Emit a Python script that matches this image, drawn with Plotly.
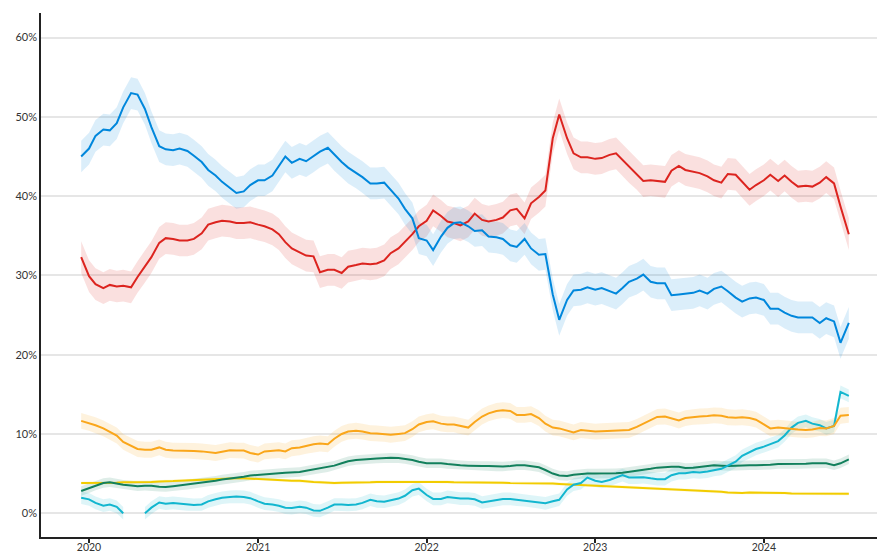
import datetime as dt
import plotly.graph_objects as go

# Polling-average dates: mid-December 2019, then the 1st and 15th of each month, ending on 3 July 2024
dates = ["2019-12-15"]
for yr in range(2020, 2025):
    for mo in range(1, 13):
        if yr == 2024 and mo > 6:
            break
        dates.append(dt.date(yr, mo, 1).isoformat())
        dates.append(dt.date(yr, mo, 15).isoformat())
dates.append("2024-07-03")

con = [45.0,
       46.0, 47.6, 48.4, 48.3, 49.2, 51.2, 53.0, 52.8, 51.0, 48.7, 46.3, 45.9, 45.8, 46.0, 45.7, 45.1, 44.3, 43.3, 42.6, 41.8, 41.0, 40.4, 40.6, 41.4,
       42.0, 42.0, 42.6, 43.8, 45.0, 44.2, 44.7, 44.4, 45.0, 45.6, 46.1, 45.2, 44.3, 43.6, 43.0, 42.4, 41.6, 41.6, 41.7, 40.8, 39.7, 38.4, 37.2, 34.7,
       34.4, 33.2, 34.9, 36.0, 36.6, 36.7, 36.2, 35.6, 35.7, 34.9, 34.8, 34.6, 33.8, 33.6, 34.6, 33.4, 32.6, 32.7, 27.6, 24.4, 26.9, 28.1, 28.2, 28.5,
       28.2, 28.4, 28.0, 27.7, 28.4, 29.2, 29.6, 30.1, 29.2, 29.0, 29.0, 27.5, 27.6, 27.7, 27.8, 28.1, 27.7, 28.3, 28.6, 28.0, 27.2, 26.7, 27.1, 27.2,
       26.9, 25.8, 25.8, 25.3, 24.9, 24.7, 24.7, 24.7, 24.0, 24.6, 24.2, 21.5, 24.0]

lab = [32.3,
       29.9, 28.9, 28.4, 28.8, 28.6, 28.7, 28.5, 29.8, 31.1, 32.3, 34.1, 34.7, 34.6, 34.4, 34.4, 34.6, 35.3, 36.4, 36.7, 36.9, 36.8, 36.6, 36.6, 36.7,
       36.4, 36.2, 35.8, 35.2, 34.2, 33.4, 32.9, 32.5, 32.4, 30.4, 30.7, 30.7, 30.3, 31.1, 31.3, 31.5, 31.4, 31.5, 31.9, 32.8, 33.4, 34.2, 35.2, 36.2,
       36.9, 38.2, 37.5, 36.8, 36.6, 36.3, 36.8, 37.8, 37.0, 36.8, 37.0, 37.3, 38.2, 38.4, 37.2, 39.1, 39.9, 40.7, 47.3, 50.3, 47.3, 45.4, 44.9, 44.9,
       44.7, 44.8, 45.2, 45.4, 44.6, 43.7, 42.8, 41.9, 42.0, 41.9, 41.8, 43.2, 43.8, 43.3, 43.1, 42.9, 42.5, 42.0, 41.7, 42.8, 42.7, 41.8, 40.8, 41.4,
       42.0, 42.7, 41.9, 42.6, 41.8, 41.2, 41.3, 41.2, 41.7, 42.4, 41.6, 38.7, 35.2]

libdem = [11.65,
          11.4, 11.1, 10.7, 10.3, 9.8, 9.0, 8.5, 8.1, 8.0, 8.0, 8.3, 8.0, 7.9, 7.9, 7.9, 7.85, 7.8, 7.7, 7.6, 7.75, 7.95, 7.9, 7.9, 7.6,
          7.4, 7.8, 7.9, 7.95, 7.8, 8.2, 8.3, 8.5, 8.7, 8.8, 8.7, 9.4, 10.0, 10.3, 10.4, 10.3, 10.1, 10.05, 10.0, 9.9, 10.0, 10.1, 10.6, 11.2,
          11.5, 11.6, 11.3, 11.2, 11.2, 11.0, 10.8, 11.5, 12.2, 12.6, 12.9, 13.0, 12.9, 12.4, 12.4, 12.5, 12.0, 11.3, 10.8, 10.7, 10.4, 10.2, 10.5, 10.4,
          10.3, 10.35, 10.4, 10.4, 10.45, 10.5, 10.9, 11.3, 11.8, 12.15, 12.2, 12.0, 11.7, 12.0, 12.15, 12.2, 12.25, 12.35, 12.3, 12.1, 12.05, 12.1, 12.0, 11.8,
          11.2, 10.7, 10.8, 10.7, 10.6, 10.55, 10.5, 10.55, 10.75, 10.7, 11.0, 12.3, 12.4]

green = [2.8,
         3.15, 3.5, 3.8, 3.9, 3.7, 3.6, 3.5, 3.4, 3.45, 3.45, 3.35, 3.3, 3.4, 3.5, 3.6, 3.7, 3.85, 4.0, 4.1, 4.25, 4.35, 4.45, 4.6, 4.75,
         4.85, 4.9, 5.0, 5.05, 5.1, 5.15, 5.2, 5.35, 5.5, 5.65, 5.8, 6.0, 6.3, 6.55, 6.7, 6.8, 6.85, 6.9, 6.95, 7.0, 6.95, 6.85, 6.7, 6.5,
         6.3, 6.3, 6.3, 6.2, 6.1, 6.05, 6.0, 5.95, 5.95, 5.95, 5.9, 5.9, 5.95, 6.05, 6.05, 5.95, 5.8, 5.45, 5.0, 4.75, 4.7, 4.85, 4.95, 5.0,
         5.0, 5.0, 5.0, 5.05, 5.1, 5.2, 5.35, 5.45, 5.6, 5.75, 5.85, 5.85, 5.85, 5.7, 5.75, 5.85, 5.95, 6.05, 6.0, 5.95, 6.0, 6.05, 6.05, 6.05,
         6.05, 6.1, 6.2, 6.2, 6.2, 6.2, 6.25, 6.3, 6.3, 6.3, 6.05, 6.3, 6.8]

snp = [3.8,
       3.8, 3.8, 3.85, 3.85, 3.85, 3.9, 3.9, 3.9, 3.95, 3.95, 4.0, 4.0, 4.05, 4.1, 4.15, 4.2, 4.25, 4.3, 4.35, 4.4, 4.4, 4.4, 4.4, 4.35,
       4.35, 4.3, 4.25, 4.2, 4.15, 4.1, 4.1, 4.0, 3.95, 3.9, 3.85, 3.8, 3.85, 3.85, 3.9, 3.9, 3.9, 3.95, 3.95, 3.95, 3.95, 3.95, 4.0, 4.0,
       4.0, 4.0, 3.95, 3.95, 3.9, 3.9, 3.9, 3.9, 3.9, 3.9, 3.85, 3.85, 3.8, 3.8, 3.8, 3.8, 3.8, 3.75, 3.75, 3.7, 3.65, 3.65, 3.65, 3.6,
       3.55, 3.5, 3.45, 3.4, 3.35, 3.3, 3.25, 3.2, 3.15, 3.1, 3.05, 3.0, 3.0, 2.95, 2.9, 2.85, 2.8, 2.75, 2.7, 2.6, 2.55, 2.55, 2.6, 2.6,
       2.6, 2.6, 2.55, 2.55, 2.5, 2.5, 2.5, 2.45, 2.45, 2.45, 2.45, 2.45, 2.45]

reform = [1.95,
          1.75, 1.3, 0.95, 1.1, 0.8, 0.0, None, None, 0.0, 0.7, 1.35, 1.2, 1.3, 1.2, 1.1, 1.05, 1.1, 1.5, 1.75, 1.95, 2.05, 2.1, 2.05, 1.9,
          1.5, 1.2, 1.1, 0.95, 0.7, 0.65, 0.8, 0.7, 0.35, 0.3, 0.7, 1.1, 1.1, 1.05, 1.1, 1.3, 1.7, 1.5, 1.45, 1.6, 1.85, 2.2, 2.9, 3.1,
          2.3, 1.8, 1.8, 2.05, 1.95, 1.85, 1.85, 1.75, 1.35, 1.5, 1.7, 1.8, 1.8, 1.7, 1.65, 1.55, 1.4, 1.25, 1.5, 1.7, 3.0, 3.6, 3.8, 4.5,
          4.1, 3.95, 4.2, 4.5, 4.8, 4.5, 4.5, 4.55, 4.4, 4.3, 4.3, 4.8, 5.05, 5.05, 5.2, 5.15, 5.25, 5.45, 5.6, 6.0, 6.5, 7.25, 7.7, 8.1,
          8.4, 8.75, 9.1, 9.8, 10.8, 11.4, 11.65, 11.3, 11.1, 10.7, 11.0, 15.3, 14.8]

year_ticks = ["2020-01-01", "2021-01-01", "2022-01-01", "2023-01-01", "2024-01-01"]
year_labels = ["2020", "2021", "2022", "2023", "2024"]
pct_ticks = [0, 10, 20, 30, 40, 50, 60]
pct_labels = ["0%", "10%", "20%", "30%", "40%", "50%", "60%"]

# party: (values, line colour, band rgba, band half-width in points)
parties = [
    ("SNP", snp, "#F2CC00", "rgba(242,204,0,0.12)", 0.2),
    ("Green", green, "#12805C", "rgba(18,128,92,0.14)", 0.6),
    ("Reform UK", reform, "#12B6CF", "rgba(18,182,207,0.14)", 0.8),
    ("Liberal Democrats", libdem, "#FAA61A", "rgba(250,166,26,0.15)", 1.0),
    ("Labour", lab, "#DC241F", "rgba(220,36,31,0.14)", 2.0),
    ("Conservative", con, "#0087DC", "rgba(0,135,220,0.14)", 2.0),
]

fig = go.Figure()


def segments(xs, ys):
    seg_x, seg_y = [], []
    for x, y in zip(xs, ys):
        if y is None:
            if seg_x:
                yield seg_x, seg_y
            seg_x, seg_y = [], []
        else:
            seg_x.append(x)
            seg_y.append(y)
    if seg_x:
        yield seg_x, seg_y


# uncertainty bands
for name, vals, col, band, hw in parties:
    for sx, sy in segments(dates, vals):
        upper = [v + hw for v in sy]
        lower = [v - hw for v in sy]
        fig.add_trace(go.Scatter(
            x=sx + sx[::-1], y=upper + lower[::-1],
            fill="toself", fillcolor=band, line=dict(width=0),
            mode="lines", hoverinfo="skip", showlegend=False))

# average lines
for name, vals, col, band, hw in parties:
    fig.add_trace(go.Scatter(
        x=dates, y=vals, name=name, mode="lines",
        line=dict(color=col, width=2), connectgaps=False,
        showlegend=False))

fig.update_layout(
    width=877, height=555,
    margin=dict(l=41, r=0, t=13, b=18),
    paper_bgcolor="white", plot_bgcolor="white",
    font=dict(family="Lato, 'Open Sans', sans-serif", size=11, color="#333"),
    showlegend=False,
)
fig.update_xaxes(
    type="date", range=["2019-09-19", "2024-09-02"],
    tickmode="array", tickvals=year_ticks, ticktext=year_labels,
    showgrid=False, showline=True, linecolor="#222", linewidth=1.5,
    ticks="outside", ticklen=4, tickcolor="#222", tickwidth=1.5,
    ticklabelstandoff=-4, tickfont=dict(size=10.5),
    zeroline=False, automargin=False,
)
fig.update_yaxes(
    range=[-3.0, 63.1],
    tickmode="array", tickvals=pct_ticks, ticktext=pct_labels,
    showgrid=True, gridcolor="#e6e6e6", gridwidth=1.5,
    showline=True, linecolor="#222", linewidth=1.5,
    ticks="", zeroline=False, automargin=False,
)

fig.write_html("out.html")
